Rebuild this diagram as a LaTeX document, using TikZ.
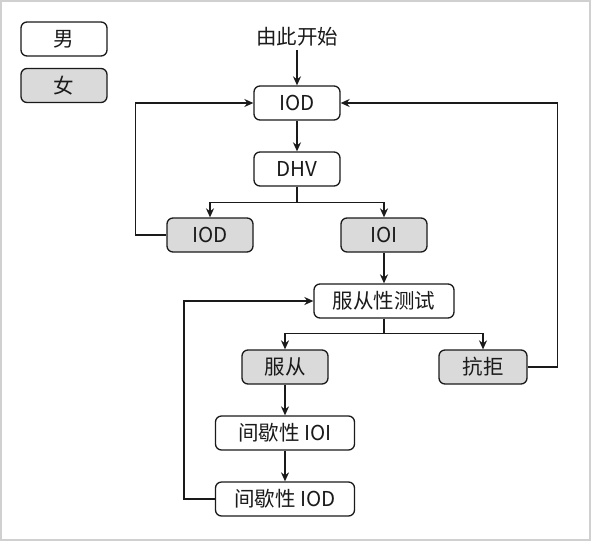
\documentclass[tikz,border=0pt]{standalone}
\usepackage{tikz}
\usetikzlibrary{arrows,arrows.meta}
\usepackage{xcolor}
\usepackage{fontspec}
\setmainfont{Noto Sans CJK SC}

\definecolor{boxgray}{HTML}{DADADA}
\definecolor{framegray}{HTML}{D0D0D0}
\definecolor{ink}{HTML}{1A1A1A}

\begin{document}
\begin{tikzpicture}[
        > = {Stealth[length=9pt,width=8pt]}, % arrow head style
        x = 1pt, y = -1pt, % one unit per pixel, y going down
        node distance = 66pt, % distance between rows
        line width = 1.3pt, % line style
        font = \fontsize{20.5}{24}\selectfont,
        color = ink
    ]

    \tikzstyle{man}=[
        draw = ink,
        fill = white,
        rounded corners = 6pt,
        minimum width = 86pt,
        minimum height = 34pt,
        inner sep = 2pt
    ]
    \tikzstyle{woman}=[man, fill = boxgray]

    \useasboundingbox (0,0) rectangle (593,541);
    \draw[framegray, line width = 2pt] (1,1) rectangle (590,540);

    \node[man] (legm) at (64,39) {男};
    \node[woman] (legw) at (64,85.5) {女};

    \node[man] (iod) at (297,103) {IOD};
    \node (start) [above of=iod] {由此开始};
    \node[man] (dhv) [below of=iod] {DHV};
    \node[woman] (fiod) [below of=dhv, xshift=-87pt] {IOD};
    \node[woman] (ioi) [below of=dhv, xshift=87pt] {IOI};
    \node[man, minimum width=140pt] (test) [below of=ioi] {服从性测试};
    \node[woman] (obey) [below of=test, xshift=-99pt] {服从};
    \node[woman, minimum width=88pt] (refuse) [below of=test, xshift=99pt] {抗拒};
    \node[man, minimum width=139pt] (iioi) [below of=obey] {间歇性 IOI};
    \node[man, minimum width=139pt] (iiod) [below of=iioi] {间歇性 IOD};

    \draw[->] (start) -- (iod);
    \draw[->] (iod) -- (dhv);
    \draw[->] (dhv.south) -- ++(0,16) -| (fiod.north);
    \draw[->] (dhv.south) -- ++(0,16) -| (ioi.north);
    \draw[->] (fiod.west) -- ++(-31,0) |- (iod.west);
    \draw[->] (ioi) -- (test);
    \draw[->] (test.south) -- ++(0,15) -| (obey.north);
    \draw[->] (test.south) -- ++(0,15) -| (refuse.north);
    \draw[->] (refuse.east) -- ++(30,0) |- (iod.east);
    \draw[->] (obey) -- (iioi);
    \draw[->] (iioi) -- (iiod);
    \draw[->] (iiod.west) -- ++(-31,0) |- (test.west);
\end{tikzpicture}
\end{document}
